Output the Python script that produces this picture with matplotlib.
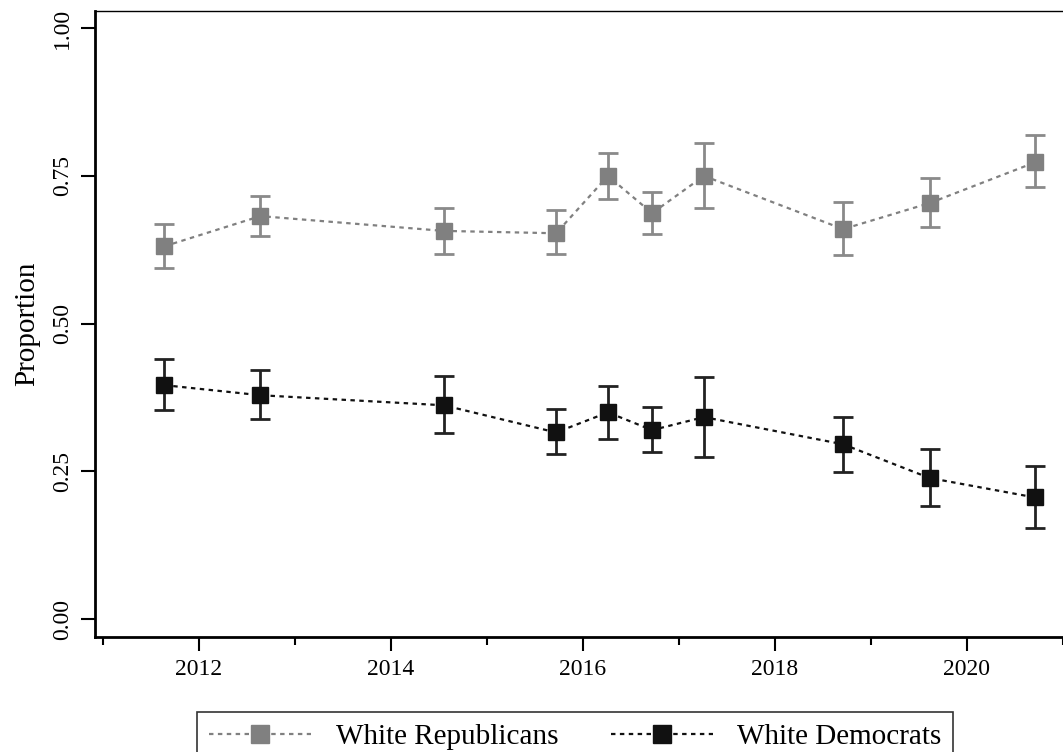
import numpy as np
import matplotlib.pyplot as plt
from matplotlib.ticker import MultipleLocator

# survey waves (decimal years)
waves = [2011.64, 2012.64, 2014.55, 2015.72, 2016.26, 2016.72, 2017.26, 2018.71, 2019.61, 2020.71]

rep_mean = [0.631, 0.682, 0.657, 0.653, 0.750, 0.687, 0.750, 0.660, 0.704, 0.773]
rep_lo = [0.594, 0.648, 0.618, 0.618, 0.711, 0.651, 0.695, 0.616, 0.663, 0.731]
rep_hi = [0.668, 0.716, 0.695, 0.692, 0.788, 0.722, 0.805, 0.706, 0.746, 0.819]

dem_mean = [0.396, 0.379, 0.362, 0.316, 0.350, 0.320, 0.342, 0.296, 0.239, 0.206]
dem_lo = [0.354, 0.338, 0.315, 0.279, 0.305, 0.283, 0.274, 0.249, 0.191, 0.154]
dem_hi = [0.440, 0.421, 0.411, 0.355, 0.394, 0.359, 0.409, 0.343, 0.288, 0.259]

plt.rcParams['font.family'] = ['Liberation Serif', 'DejaVu Serif']

fig = plt.figure(figsize=(10.63, 7.52), dpi=100)
ax = fig.add_axes([95 / 1063, 1 - 637 / 752, 1 - 95 / 1063, (637 - 11) / 752])

def draw(mean, lo, hi, color, ecolor, label):
    mean = np.array(mean)
    yerr = [mean - np.array(lo), np.array(hi) - mean]
    ax.errorbar(waves, mean, yerr=yerr, fmt='none', ecolor=ecolor,
                elinewidth=2, capsize=7, capthick=2, zorder=2)
    return ax.plot(waves, mean, linestyle=(0, (2, 2)), color=color, linewidth=1.6,
                   marker='s', markersize=12, markerfacecolor=color,
                   markeredgecolor=color, label=label, zorder=3)[0]

h1 = draw(rep_mean, rep_lo, rep_hi, '#808080', '#8a8a8a', 'White Republicans')
h2 = draw(dem_mean, dem_lo, dem_hi, '#111111', '#222222', 'White Democrats')

ax.set_xlim(2010.917, 2021.0)
ax.set_ylim(-0.030, 1.029)
ax.set_yticks([0, 0.25, 0.5, 0.75, 1.0])
ax.set_yticklabels(['0.00', '0.25', '0.50', '0.75', '1.00'], rotation=90, va='center')
ax.set_xticks([2012, 2014, 2016, 2018, 2020])
ax.xaxis.set_minor_locator(MultipleLocator(1))
ax.tick_params(axis='both', which='major', labelsize=17, length=10, width=1.5, pad=6)
ax.tick_params(axis='x', which='minor', length=6, width=1.5)
ax.set_ylabel('Proportion', fontsize=21, labelpad=8)

ax.spines['left'].set_linewidth(2)
ax.spines['bottom'].set_linewidth(2)
ax.spines['top'].set_linewidth(1)
ax.spines['right'].set_visible(False)

leg = fig.legend(handles=[h1, h2], loc='upper left', bbox_to_anchor=(197 / 1063, 1 - 712 / 752),
                 ncol=2, fontsize=21, frameon=True, fancybox=False, edgecolor='black',
                 handlelength=3.5, columnspacing=1.8, borderpad=0.4, handletextpad=0.85,
                 borderaxespad=0, markerscale=1.1)
leg.get_frame().set_linewidth(1.2)

fig.savefig('out.png', dpi=100)
